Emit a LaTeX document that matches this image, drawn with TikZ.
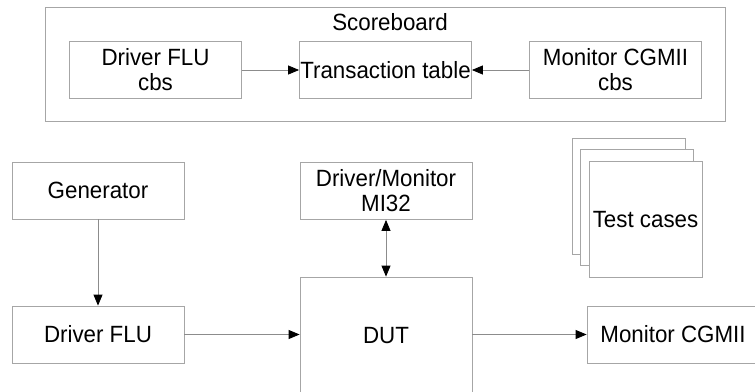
\documentclass[tikz,border=0pt]{standalone}
\usepackage{fontspec}
\setmainfont[FakeStretch=0.95]{Liberation Sans}
\usetikzlibrary{arrows.meta}

\begin{document}
\begin{tikzpicture}[x=1bp,y=-1bp,
		box/.style={draw=black!35,line width=0.8bp,fill=white,inner sep=0pt,align=center,minimum width=172bp,minimum height=57bp},
		tip/.style={Triangle[length=11bp,width=9bp,color=black]},
		link/.style={draw=black!45,line width=0.8bp,-{Triangle[length=11bp,width=9bp,color=black]}}]
			\fontsize{23.5bp}{25bp}\selectfont
			\useasboundingbox (0,0) rectangle (755,391);
			\clip (0,0) rectangle (755,391);
			
			\draw[black!35,line width=0.8bp] (45,7) rectangle (725,121);
			\node (sb) at (390,22) {Scoreboard};
			\node[box] (drvcbs) at (155.5,70) {Driver FLU\\cbs};
			\node[box] (ttable) at (385.5,70) {Transaction table};
			\node[box] (moncbs) at (615.5,70) {Monitor CGMII\\cbs};
			\draw[link] (drvcbs) -- (ttable);
			\draw[link] (moncbs) -- (ttable);
			
			\node[box] (gen) at (98,190.5) {Generator};
			\node[box] (drv) at (98,334.5) {Driver FLU};
			\node[box] (mi32) at (386,191) {Driver/Monitor\\MI32};
			\node[box,minimum height=118bp] (dut) at (386,336) {DUT};
			\node[box,minimum width=172bp] (mon) at (673,334.5) {Monitor CGMII};
			
			\node[box,minimum width=113bp,minimum height=116bp] (tcb) at (628.5,196) {};
			\node[box,minimum width=113bp,minimum height=116bp] (tcm) at (637,207.5) {};
			\node[box,minimum width=113bp,minimum height=116bp] (tc) at (645.5,219.5) {Test cases};
			
			\draw[link] (gen) -- (drv);
			\draw[link,{Triangle[length=11bp,width=9bp,color=black]}-{Triangle[length=11bp,width=9bp,color=black]}] (mi32) -- (dut);
			\draw[link] (drv.east) -- (drv.east -| dut.west);
			\draw[link] (drv.east -| dut.east) -- (mon.west);
		\end{tikzpicture}
\end{document}
